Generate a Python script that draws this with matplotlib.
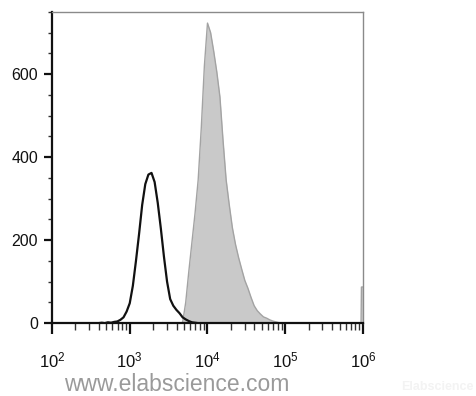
import numpy as np
import matplotlib
matplotlib.use("Agg")
import matplotlib.pyplot as plt
from matplotlib.ticker import LogLocator, MultipleLocator, NullFormatter

plt.rcParams['font.family'] = ['Liberation Sans', 'DejaVu Sans']
plt.rcParams['mathtext.fontset'] = 'custom'
plt.rcParams['mathtext.rm'] = 'Liberation Sans'
plt.rcParams['mathtext.it'] = 'Liberation Sans'

# unstained / isotype control (black open histogram), bin centres in log10
control_log_x = [2.60, 2.64, 2.68, 2.72, 2.76, 2.80, 2.84, 2.88, 2.92, 2.96,
                 3.00, 3.04, 3.08, 3.12, 3.16, 3.20, 3.24, 3.28, 3.32, 3.36,
                 3.40, 3.44, 3.48, 3.52, 3.56, 3.60, 3.64, 3.68, 3.72, 3.76,
                 3.80, 3.84, 3.88]
control_counts = [0, 1, 0, 2, 1, 3, 4, 8, 14, 28,
                  48, 90, 150, 215, 285, 335, 358, 362, 340, 290,
                  228, 160, 100, 58, 42, 32, 24, 14, 9, 5,
                  2, 1, 0]

# stained sample (gray filled histogram)
stained_log_x = [3.64, 3.68, 3.72, 3.76, 3.80, 3.84, 3.88, 3.92, 3.96, 4.00,
                 4.04, 4.08, 4.12, 4.16, 4.20, 4.24, 4.28, 4.32, 4.36, 4.40,
                 4.44, 4.48, 4.52, 4.56, 4.60, 4.64, 4.68, 4.72, 4.76, 4.80,
                 4.84, 4.88, 4.92, 4.96, 5.00]
stained_counts = [0, 2, 50, 125, 195, 265, 345, 470, 620, 723,
                  700, 655, 605, 545, 440, 345, 285, 230, 190, 158,
                  130, 103, 84, 62, 42, 30, 22, 15, 12, 8,
                  5, 3, 1, 0, 0]

# off-scale pile-up at the top of the range
edge_log_x = [5.975, 5.98, 6.0]
edge_counts = [0, 87, 87]

x_ticks = [1e2, 1e3, 1e4, 1e5, 1e6]
x_labels = ['$10^{2}$', '$10^{3}$', '$10^{4}$', '$10^{5}$', '$10^{6}$']
y_ticks = [0, 200, 400, 600]

fig = plt.figure(figsize=(4.77, 3.96), dpi=100)
ax = fig.add_axes([0.109, 0.184, 0.652, 0.786])

sx = 10 ** np.array(stained_log_x)
ax.fill_between(sx, stained_counts, color='#c9c9c9', lw=0)
ax.plot(sx, stained_counts, color='#a3a3a3', lw=1.0)
ex = 10 ** np.array(edge_log_x)
ax.fill_between(ex, edge_counts, color='#c9c9c9', lw=0)
ax.plot(ex, edge_counts, color='#a3a3a3', lw=1.0)

cx = 10 ** np.array(control_log_x)
ax.plot(cx, control_counts, color='#111111', lw=1.6)

ax.set_xscale('log')
ax.set_xlim(1e2, 1e6)
ax.set_ylim(0, 750)

ax.set_xticks(x_ticks)
ax.set_xticklabels(x_labels)
ax.xaxis.set_minor_locator(LogLocator(base=10, subs=np.arange(2, 10)))
ax.xaxis.set_minor_formatter(NullFormatter())
ax.set_yticks(y_ticks)
ax.yaxis.set_minor_locator(MultipleLocator(50))

ax.tick_params(axis='x', which='major', length=8, width=1.6, direction='out',
               labelsize=12, pad=12, colors='#111111')
ax.tick_params(axis='x', which='minor', length=5, width=1.0, direction='out',
               colors='#333333')
ax.tick_params(axis='y', which='major', length=6, width=1.6, direction='out',
               labelsize=11.5, pad=4, colors='#111111')
ax.tick_params(axis='y', which='minor', length=3, width=1.0, direction='out',
               colors='#333333')

for side in ['left', 'bottom']:
    ax.spines[side].set_linewidth(1.6)
    ax.spines[side].set_color('#111111')
for side in ['top', 'right']:
    ax.spines[side].set_linewidth(1.0)
    ax.spines[side].set_color('#8a8a8a')

fig.text(0.135, 0.012, 'www.elabscience.com', fontsize=16.5, color='#9a9a9a',
         va='baseline')
fig.text(0.84, 0.015, 'Elabscience', fontsize=9, color='#f3f3f3',
         fontweight='bold')

fig.savefig('out.png', dpi=100)
